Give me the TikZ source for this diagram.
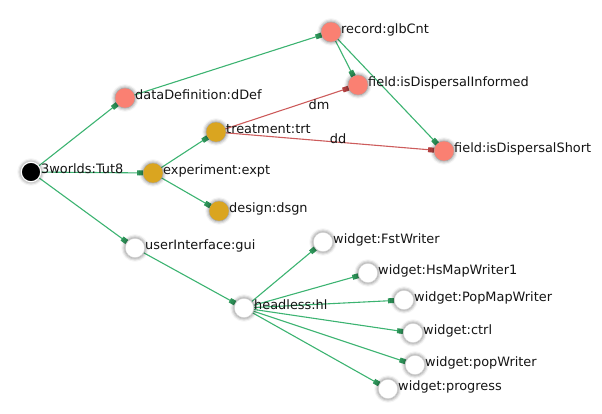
\documentclass[tikz,border=0pt]{standalone}
\usepackage{fontspec}
\setmainfont{DejaVu Sans}
\usetikzlibrary{arrows.meta,shadows.blur,backgrounds}

\definecolor{edgegreen}{RGB}{60,179,113}
\definecolor{tipgreen}{RGB}{46,150,90}
\definecolor{edgered}{RGB}{205,92,92}
\definecolor{tipred}{RGB}{180,65,65}
\definecolor{salmonc}{RGB}{250,128,114}
\definecolor{goldc}{RGB}{218,165,32}

\tikzset{
  vertex/.style={circle, minimum size=19.5pt, inner sep=0pt,
    blur shadow={shadow xshift=0pt, shadow yshift=0pt,
      shadow blur radius=4pt, shadow opacity=65}},
  rootv/.style={vertex, fill=black, draw=white, line width=1.2pt},
  recv/.style={vertex, fill=salmonc},
  expv/.style={vertex, fill=goldc},
  uiv/.style={vertex, fill=white, draw=black!18, line width=0.6pt},
  vlabel/.style={anchor=base west, inner sep=0pt, xshift=10pt, yshift=-1pt,
    font=\fontsize{12.9}{15}\selectfont, text=black!92},
  elabel/.style={inner sep=0pt, font=\fontsize{12.9}{15}\selectfont, text=black!92},
  gedge/.style={draw=edgegreen, line width=1.1pt,
    -{Rectangle[length=6pt,width=5pt,color=tipgreen]}},
  redge/.style={draw=edgered, line width=1.1pt,
    -{Rectangle[length=6pt,width=5pt,color=tipred]}}
}

\begin{document}
\begin{tikzpicture}[x=1pt,y=-1pt]
  \useasboundingbox (0,0) rectangle (602,413);

  % vertices
  \node[rootv] (tut)  at (31,172)  {};
  \node[recv]  (ddef) at (125,98)  {};
  \node[expv]  (expt) at (153,173) {};
  \node[uiv]   (gui)  at (135,248) {};
  \node[recv]  (rec)  at (331,32)  {};
  \node[expv]  (trt)  at (216,132) {};
  \node[expv]  (dsgn) at (219,211) {};
  \node[recv]  (fdi)  at (358,85)  {};
  \node[recv]  (fds)  at (444,151) {};
  \node[uiv]   (hl)   at (244,308) {};
  \node[uiv]   (wfst) at (323,242) {};
  \node[uiv]   (whs)  at (368,273) {};
  \node[uiv]   (wpm)  at (404,300) {};
  \node[uiv]   (wct)  at (413,333) {};
  \node[uiv]   (wpw)  at (415,365) {};
  \node[uiv]   (wpr)  at (388,389) {};

  % connectors, kept underneath the vertices
  \begin{scope}[on background layer]
    \draw[gedge] (tut) -- (ddef);
    \draw[gedge] (tut) -- (expt);
    \draw[gedge] (tut) -- (gui);
    \draw[gedge] (ddef) -- (rec);
    \draw[gedge] (rec) -- (fdi);
    \draw[gedge] (rec) -- (fds);
    \draw[gedge] (expt) -- (trt);
    \draw[gedge] (expt) -- (dsgn);
    \draw[redge] (trt) -- (fdi);
    \draw[redge] (trt) -- (fds);
    \draw[gedge] (gui) -- (hl);
    \draw[gedge] (hl) -- (wfst);
    \draw[gedge] (hl) -- (whs);
    \draw[gedge] (hl) -- (wpm);
    \draw[gedge] (hl) -- (wct);
    \draw[gedge] (hl) -- (wpw);
    \draw[gedge] (hl) -- (wpr);
  \end{scope}

  % edge labels
  \node[elabel] (ldm) at (319,105) {dm};
  \node[elabel] (ldd) at (338,139) {dd};

  % vertex labels
  \node[vlabel] (ltut)  at (tut.center)  {3worlds:Tut8};
  \node[vlabel] (lddef) at (ddef.center) {dataDefinition:dDef};
  \node[vlabel] (lexpt) at (expt.center) {experiment:expt};
  \node[vlabel] (lgui)  at (gui.center)  {userInterface:gui};
  \node[vlabel] (lrec)  at (rec.center)  {record:glbCnt};
  \node[vlabel] (ltrt)  at (trt.center)  {treatment:trt};
  \node[vlabel] (ldsgn) at (dsgn.center) {design:dsgn};
  \node[vlabel] (lfdi)  at (fdi.center)  {field:isDispersalInformed};
  \node[vlabel] (lfds)  at (fds.center)  {field:isDispersalShort};
  \node[vlabel] (lhl)   at (hl.center)   {headless:hl};
  \node[vlabel] (lwfst) at (wfst.center) {widget:FstWriter};
  \node[vlabel] (lwhs)  at (whs.center)  {widget:HsMapWriter1};
  \node[vlabel] (lwpm)  at (wpm.center)  {widget:PopMapWriter};
  \node[vlabel] (lwct)  at (wct.center)  {widget:ctrl};
  \node[vlabel] (lwpw)  at (wpw.center)  {widget:popWriter};
  \node[vlabel] (lwpr)  at (wpr.center)  {widget:progress};
\end{tikzpicture}
\end{document}
